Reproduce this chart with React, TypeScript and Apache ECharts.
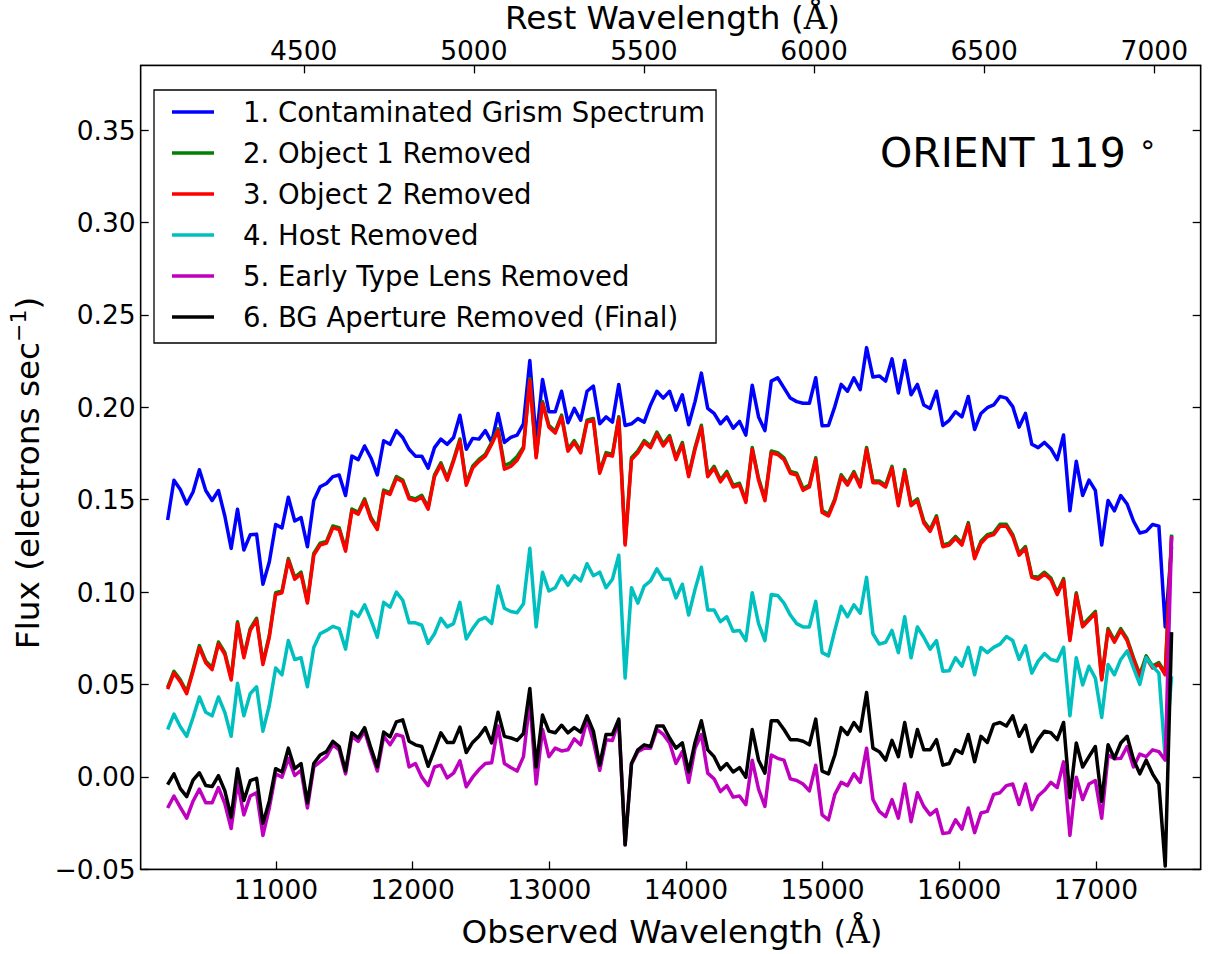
import React, { useEffect, useRef } from "react";
import * as echarts from "echarts";

// Observed wavelength grid (Angstrom)
const wavelength = [
  10207, 10253.5, 10300, 10346.5, 10393, 10439.5, 10486, 10532.5, 10579, 10625.5,
  10672, 10718.5, 10765, 10811.5, 10858, 10904.5, 10951, 10997.5, 11044, 11090.5,
  11137, 11183.5, 11230, 11276.5, 11323, 11369.5, 11416, 11462.5, 11509, 11555.5,
  11602, 11648.5, 11695, 11741.5, 11788, 11834.5, 11881, 11927.5, 11974, 12020.5,
  12067, 12113.5, 12160, 12206.5, 12253, 12299.5, 12346, 12392.5, 12439, 12485.5,
  12532, 12578.5, 12625, 12671.5, 12718, 12764.5, 12811, 12857.5, 12904, 12950.5,
  12997, 13043.5, 13090, 13136.5, 13183, 13229.5, 13276, 13322.5, 13369, 13415.5,
  13462, 13508.5, 13555, 13601.5, 13648, 13694.5, 13741, 13787.5, 13834, 13880.5,
  13927, 13973.5, 14020, 14066.5, 14113, 14159.5, 14206, 14252.5, 14299, 14345.5,
  14392, 14438.5, 14485, 14531.5, 14578, 14624.5, 14671, 14717.5, 14764, 14810.5,
  14857, 14903.5, 14950, 14996.5, 15043, 15089.5, 15136, 15182.5, 15229, 15275.5,
  15322, 15368.5, 15415, 15461.5, 15508, 15554.5, 15601, 15647.5, 15694, 15740.5,
  15787, 15833.5, 15880, 15926.5, 15973, 16019.5, 16066, 16112.5, 16159, 16205.5,
  16252, 16298.5, 16345, 16391.5, 16438, 16484.5, 16531, 16577.5, 16624, 16670.5,
  16717, 16763.5, 16810, 16856.5, 16903, 16949.5, 16996, 17042.5, 17089, 17135.5,
  17182, 17228.5, 17275, 17321.5, 17368, 17414.5, 17461, 17507.5, 17554,
];

const contaminated = [
  0.139, 0.1606, 0.1555, 0.1477, 0.1542, 0.1662, 0.155, 0.1496, 0.155, 0.1412, 0.1237, 0.1449, 0.1228, 0.131, 0.1314, 0.1043, 0.1163, 0.1366, 0.1348, 0.1514, 0.1385, 0.1403, 0.1246, 0.1496, 0.157, 0.1588,
  0.1625, 0.1634, 0.1523, 0.1736, 0.1717, 0.1791, 0.1726, 0.1634, 0.1819, 0.18, 0.1874, 0.1837, 0.1773, 0.1736, 0.1736, 0.1671, 0.1782, 0.1828, 0.18, 0.1837, 0.1957, 0.1773, 0.1832, 0.1828, 0.1874, 0.181, 0.1967,
  0.181, 0.1837, 0.185, 0.1911, 0.2253, 0.1819, 0.2151, 0.1976, 0.1976, 0.2087, 0.1917, 0.1994, 0.193, 0.2087, 0.2115, 0.1911, 0.1948, 0.192, 0.2124, 0.1902, 0.1911, 0.1939, 0.192, 0.2013, 0.2087, 0.205,
  0.2087, 0.1985, 0.2068, 0.1906, 0.2031, 0.2185, 0.1994, 0.1967, 0.1911, 0.1948, 0.1887, 0.1924, 0.185, 0.212, 0.1948, 0.1874, 0.2142, 0.216, 0.2105, 0.205, 0.2031, 0.2022, 0.2022, 0.216, 0.19, 0.1902, 0.2004,
  0.2124, 0.2087, 0.216, 0.2096, 0.2323, 0.2164, 0.217, 0.2142, 0.2262, 0.2078, 0.2253, 0.2068, 0.2124, 0.2013, 0.1994, 0.2087, 0.1902, 0.193, 0.1976, 0.1948, 0.2059, 0.188, 0.1967, 0.1998, 0.2013, 0.2059, 0.205,
  0.2004, 0.1893, 0.1967, 0.18, 0.1782, 0.181, 0.1776, 0.1717, 0.185, 0.144, 0.1708, 0.1523, 0.1606, 0.1551, 0.1255, 0.1496, 0.144, 0.1523, 0.1477, 0.1385, 0.132, 0.1329, 0.1366, 0.1357, 0.0812, 0.1246,
];

const object1Removed = [
  0.0485, 0.0572, 0.0526, 0.0461, 0.0582, 0.0711, 0.0628, 0.0591, 0.073, 0.0674, 0.0535, 0.084, 0.0655, 0.0803, 0.0859, 0.0619, 0.0766, 0.0997, 0.1007, 0.1182, 0.108, 0.1108, 0.0951, 0.121, 0.1265, 0.1275,
  0.1358, 0.1349, 0.1232, 0.145, 0.1432, 0.1505, 0.1404, 0.1349, 0.1552, 0.1539, 0.1626, 0.1607, 0.1515, 0.1505, 0.1524, 0.1459, 0.1635, 0.17, 0.1616, 0.1718, 0.1829, 0.1589, 0.1681, 0.1718, 0.1746, 0.181, 0.1884,
  0.1685, 0.17, 0.1734, 0.1786, 0.2156, 0.1737, 0.2032, 0.1903, 0.1871, 0.1958, 0.1773, 0.182, 0.1764, 0.193, 0.194, 0.1653, 0.1755, 0.1746, 0.1949, 0.1265, 0.1727, 0.1764, 0.182, 0.1792, 0.1866, 0.1801,
  0.1847, 0.1727, 0.181, 0.1635, 0.1783, 0.1903, 0.1635, 0.1681, 0.1607, 0.1653, 0.1579, 0.1589, 0.1496, 0.1783, 0.1616, 0.1505, 0.1764, 0.1755, 0.1727, 0.1653, 0.1644, 0.1561, 0.1579, 0.1727, 0.1441, 0.1422, 0.1505,
  0.1635, 0.1589, 0.1653, 0.1579, 0.1783, 0.1602, 0.1602, 0.1579, 0.1681, 0.1478, 0.1663, 0.1478, 0.1505, 0.1385, 0.1339, 0.1413, 0.1256, 0.1265, 0.1302, 0.1265, 0.1376, 0.1191, 0.1275, 0.1311, 0.1321, 0.1367, 0.1367,
  0.1311, 0.121, 0.1247, 0.109, 0.108, 0.1108, 0.1077, 0.0997, 0.1073, 0.0748, 0.0997, 0.0822, 0.0859, 0.0896, 0.0535, 0.0803, 0.0739, 0.0803, 0.0748, 0.0646, 0.0554, 0.0655, 0.06, 0.0619, 0.0563, 0.1311,
];

const object2Removed = [
  0.0475, 0.0562, 0.0516, 0.0451, 0.0572, 0.0701, 0.0618, 0.0581, 0.072, 0.0664, 0.0525, 0.083, 0.0645, 0.0793, 0.0849, 0.0609, 0.0756, 0.0987, 0.0997, 0.1172, 0.107, 0.1098, 0.0941, 0.12, 0.1255, 0.1265,
  0.1348, 0.1339, 0.1222, 0.144, 0.1422, 0.1495, 0.1394, 0.1339, 0.1542, 0.1529, 0.1616, 0.1597, 0.1505, 0.1495, 0.1514, 0.1449, 0.1625, 0.169, 0.1606, 0.1708, 0.1819, 0.1579, 0.1671, 0.1708, 0.1736, 0.18, 0.1874,
  0.1665, 0.168, 0.1714, 0.1776, 0.2146, 0.1727, 0.2022, 0.1893, 0.1861, 0.1948, 0.1763, 0.181, 0.1754, 0.192, 0.193, 0.1643, 0.1745, 0.1736, 0.1939, 0.1255, 0.1717, 0.1754, 0.181, 0.1782, 0.1856, 0.1791,
  0.1837, 0.1717, 0.18, 0.1625, 0.1773, 0.1893, 0.1625, 0.1671, 0.1597, 0.1643, 0.1569, 0.1579, 0.1486, 0.1773, 0.1606, 0.1495, 0.1754, 0.1745, 0.1717, 0.1643, 0.1634, 0.1551, 0.1569, 0.1717, 0.1431, 0.1412, 0.1495,
  0.1625, 0.1579, 0.1643, 0.1569, 0.1773, 0.1592, 0.1592, 0.1569, 0.1671, 0.1468, 0.1653, 0.1468, 0.1495, 0.1375, 0.1329, 0.1403, 0.1246, 0.1255, 0.1292, 0.1255, 0.1366, 0.1181, 0.1265, 0.1301, 0.1311, 0.1357, 0.1357,
  0.1301, 0.12, 0.1237, 0.108, 0.107, 0.1098, 0.1067, 0.0987, 0.1063, 0.0738, 0.0987, 0.0812, 0.0849, 0.0886, 0.0525, 0.0793, 0.0729, 0.0793, 0.0738, 0.0636, 0.0544, 0.0645, 0.059, 0.0609, 0.0553, 0.1301,
];

const hostRemoved = [
  0.0257, 0.034, 0.0272, 0.022, 0.0322, 0.0433, 0.035, 0.0331, 0.0433, 0.035, 0.022, 0.0507, 0.0331, 0.0451, 0.0488, 0.0248, 0.0387, 0.059, 0.0553, 0.0738, 0.0636, 0.0645, 0.0488, 0.0701, 0.0775, 0.0793,
  0.0815, 0.0803, 0.0692, 0.0895, 0.0867, 0.0932, 0.0849, 0.0756, 0.0945, 0.0919, 0.1, 0.0956, 0.0834, 0.0834, 0.0821, 0.0723, 0.0775, 0.0858, 0.0812, 0.083, 0.0945, 0.0747, 0.0803, 0.0849, 0.0863, 0.083, 0.1033,
  0.0913, 0.0895, 0.0889, 0.0937, 0.1237, 0.0812, 0.1108, 0.1006, 0.1024, 0.1089, 0.1037, 0.1089, 0.1061, 0.1154, 0.1089, 0.1108, 0.1024, 0.107, 0.12, 0.0535, 0.1024, 0.0941, 0.1033, 0.1061, 0.1126, 0.107,
  0.107, 0.0969, 0.1043, 0.0876, 0.1015, 0.1135, 0.0904, 0.0904, 0.084, 0.0867, 0.0788, 0.0793, 0.0738, 0.0997, 0.083, 0.0738, 0.0987, 0.0982, 0.0941, 0.0876, 0.083, 0.0812, 0.0812, 0.095, 0.0673, 0.0655, 0.0793,
  0.0923, 0.0867, 0.0932, 0.0886, 0.108, 0.0775, 0.0719, 0.0729, 0.0793, 0.0673, 0.0867, 0.0645, 0.0812, 0.0756, 0.0692, 0.0738, 0.0572, 0.0575, 0.0645, 0.0599, 0.0701, 0.0553, 0.0701, 0.0673, 0.0701, 0.0719, 0.076,
  0.0738, 0.0636, 0.071, 0.0562, 0.0627, 0.0668, 0.0636, 0.0627, 0.0701, 0.0331, 0.0645, 0.0498, 0.0599, 0.0535, 0.0322, 0.0609, 0.0553, 0.0636, 0.0682, 0.059, 0.0501, 0.0645, 0.0599, 0.0562, 0.01, 0.0544,
];

const lensRemoved = [
  -0.0168, -0.0103, -0.0164, -0.0223, -0.0131, -0.0066, -0.014, -0.014, -0.0057, -0.0144, -0.0279, -0.0029, -0.0205, -0.0103, -0.0085, -0.0316, -0.0168, 0.0017, -0.0001, 0.0101, 0.0008, 0.0036, -0.0168, 0.0054, 0.0082, 0.011,
  0.0174, 0.0147, 0.0017, 0.022, 0.0193, 0.0248, 0.0137, 0.0032, 0.022, 0.0174, 0.023, 0.022, 0.0054, 0.0073, -0.0001, -0.0047, 0.0054, 0.0064, -0.0005, 0.0021, 0.0087, -0.0053, -0.0001, 0.004, 0.0073, 0.0077, 0.0276,
  0.0073, 0.0051, 0.0032, 0.011, 0.0414, -0.0038, 0.0257, 0.011, 0.0156, 0.0141, 0.0147, 0.0206, 0.0174, 0.0309, 0.0193, 0.0036, 0.0202, 0.0198, 0.0304, -0.0367, 0.007, 0.0137, 0.0156, 0.0156, 0.0257, 0.023,
  0.0184, 0.0073, 0.0137, -0.0029, 0.0156, 0.023, 0.0021, -0.001, -0.0079, -0.0047, -0.0109, -0.0103, -0.015, 0.0091, -0.0066, -0.0159, 0.0119, 0.0101, 0.0091, -0.001, -0.0019, -0.0038, -0.0075, 0.0064, -0.0205, -0.0232, -0.0094,
  -0.0029, -0.0047, 0.0017, -0.0029, 0.0156, -0.0122, -0.0186, -0.0214, -0.0122, -0.0223, -0.0038, -0.0242, -0.0085, -0.0159, -0.0205, -0.0177, -0.0306, -0.0301, -0.0232, -0.0282, -0.0168, -0.0301, -0.0195, -0.0186, -0.0094, -0.0085, -0.0047,
  -0.0038, -0.0149, -0.0038, -0.0177, -0.0103, -0.0072, -0.0029, -0.0057, 0.0082, -0.0316, -0.0001, -0.0122, -0.0038, -0.0019, -0.0223, 0.0119, 0.0099, 0.0101, 0.0165, 0.0054, 0.0124, 0.011, 0.0147, 0.0137, 0.0091, 0.1301,
];

const bgRemoved = [
  -0.0041, 0.0017, -0.0063, -0.0106, -0.0017, 0.0023, -0.0046, -0.0052, 0.0007, -0.0074, -0.0218, 0.0045, -0.0127, -0.002, -0.0007, -0.0251, -0.0131, 0.0045, 0.0027, 0.0156, 0.0045, 0.0073, -0.014, 0.0073, 0.0119, 0.0137,
  0.0193, 0.0165, 0.0032, 0.0239, 0.0211, 0.0267, 0.0156, 0.0054, 0.0243, 0.0217, 0.0298, 0.0309, 0.0193, 0.0174, 0.0165, 0.0058, 0.0147, 0.0239, 0.0187, 0.0187, 0.027, 0.0132, 0.0187, 0.022, 0.0267, 0.0184, 0.035,
  0.022, 0.0211, 0.0198, 0.0235, 0.0479, 0.0054, 0.0335, 0.0248, 0.0239, 0.028, 0.0239, 0.0267, 0.0243, 0.0331, 0.0248, 0.0064, 0.023, 0.023, 0.0313, -0.0367, 0.0073, 0.0147, 0.0174, 0.0165, 0.0276, 0.0276,
  0.0211, 0.0156, 0.0184, 0.0027, 0.0187, 0.0304, 0.0147, 0.011, 0.004, 0.0073, 0.0027, 0.0051, -0.0001, 0.0257, 0.0091, 0.0021, 0.0304, 0.0304, 0.0257, 0.0202, 0.0202, 0.0193, 0.0174, 0.0313, 0.0032, 0.0017, 0.0119,
  0.0267, 0.023, 0.0295, 0.0248, 0.0457, 0.0156, 0.0137, 0.0091, 0.0198, 0.011, 0.0295, 0.011, 0.0257, 0.0147, 0.0147, 0.0202, 0.0064, 0.0073, 0.0147, 0.0128, 0.023, 0.0082, 0.022, 0.0187, 0.0285, 0.0295, 0.0276,
  0.0331, 0.022, 0.028, 0.0137, 0.0202, 0.0248, 0.0239, 0.0202, 0.0295, -0.0112, 0.0184, 0.0054, 0.011, 0.0165, -0.0131, 0.0174, 0.0101, 0.0184, 0.022, 0.0095, 0.0017, 0.0091, 0.0017, -0.0038, -0.0482, 0.0784,
];

const seriesNames = [
  "1. Contaminated Grism Spectrum",
  "2. Object 1 Removed",
  "3. Object 2 Removed",
  "4. Host Removed",
  "5. Early Type Lens Removed",
  "6. BG Aperture Removed (Final)",
];
const seriesColors = ["#0000ff", "#008000", "#ff0000", "#00bfbf", "#bf00bf", "#000000"];
const seriesValues = [contaminated, object1Removed, object2Removed, hostRemoved, lensRemoved, bgRemoved];

const observedTicks = [11000, 12000, 13000, 14000, 15000, 16000, 17000];
const restTicks = [4500, 5000, 5500, 6000, 6500, 7000];
const fluxTicks = [-0.05, 0, 0.05, 0.1, 0.15, 0.2, 0.25, 0.3, 0.35];
const onePlusZ = 2.4896;
const obsMin = 10010;
const obsMax = 17767;
const fluxMin = -0.05;
const fluxMax = 0.385;

const FONT = "DejaVu Sans";

export default function App() {
  const ref = useRef<HTMLDivElement>(null);
  useEffect(() => {
    document.body.style.margin = "0";
    const chart = echarts.init(ref.current!, null, { renderer: "svg" });
    const tickLine = { color: "#000", width: 1.3 };
    const labelStyle = { color: "#000", fontSize: 26.5, fontFamily: FONT };
    const fmtFlux = (v: number) => (v < -1e-9 ? "\u2212" + Math.abs(v).toFixed(2) : Math.abs(v).toFixed(2));
    const option: any = {
      animation: false,
      backgroundColor: "#fff",
      textStyle: { fontFamily: FONT },
      grid: {
        left: 140.7,
        right: 7.3,
        top: 65.4,
        bottom: 84.6,
        show: true,
        borderColor: "#000",
        borderWidth: 1.3,
        backgroundColor: "transparent",
      },
      legend: {
        orient: "vertical",
        left: 154,
        top: 90,
        padding: [7, 11, 11, 18],
        itemGap: 11,
        itemWidth: 42,
        itemHeight: 3.5,
        icon: "rect",
        borderColor: "#000",
        borderWidth: 1.3,
        borderRadius: 0,
        backgroundColor: "#fff",
        selectedMode: false,
        textStyle: { fontSize: 27.5, fontFamily: FONT, color: "#000", lineHeight: 30, padding: [0, 0, 0, 24] },
        data: seriesNames,
      },
      xAxis: [
        {
          type: "value",
          position: "bottom",
          min: obsMin,
          max: obsMax,
          splitLine: { show: false },
          axisLine: { show: true, onZero: false, lineStyle: tickLine },
          axisTick: { show: true, inside: true, length: 8, lineStyle: tickLine, customValues: observedTicks },
          axisLabel: { ...labelStyle, margin: 7, customValues: observedTicks, formatter: (v: number) => String(v) },
        },
        {
          type: "value",
          position: "top",
          min: obsMin / onePlusZ,
          max: obsMax / onePlusZ,
          splitLine: { show: false },
          axisLine: { show: true, onZero: false, lineStyle: tickLine },
          axisTick: { show: true, inside: true, length: 8, lineStyle: tickLine, customValues: restTicks },
          axisLabel: { ...labelStyle, margin: 1, customValues: restTicks, formatter: (v: number) => String(v) },
        },
      ],
      yAxis: [
        {
          type: "value",
          position: "left",
          min: fluxMin,
          max: fluxMax,
          splitLine: { show: false },
          axisLine: { show: true, onZero: false, lineStyle: tickLine },
          axisTick: { show: true, inside: true, length: 8, lineStyle: tickLine, customValues: fluxTicks },
          axisLabel: { ...labelStyle, margin: 5, customValues: fluxTicks, formatter: fmtFlux },
        },
        {
          type: "value",
          position: "right",
          min: fluxMin,
          max: fluxMax,
          splitLine: { show: false },
          axisLine: { show: true, onZero: false, lineStyle: tickLine },
          axisTick: { show: true, inside: true, length: 8, lineStyle: tickLine, customValues: fluxTicks },
          axisLabel: { show: false },
        },
      ],
      series: seriesNames.map((name, k) => ({
        name,
        type: "line",
        xAxisIndex: 0,
        yAxisIndex: 0,
        showSymbol: false,
        symbol: "none",
        clip: true,
        color: seriesColors[k],
        lineStyle: { color: seriesColors[k], width: 3.5, join: "round" },
        data: wavelength.map((w, i) => [w, seriesValues[k][i]]),
      })),
      graphic: [
        {
          type: "text",
          x: 672,
          y: 932,
          style: {
            text: "{a|Observed Wavelength (}{b|\u00c5}{a|)}",
            align: "center",
            verticalAlign: "middle",
            rich: {
              a: { fontSize: 32.7, fontFamily: FONT, fill: "#000" },
              b: { fontSize: 32.7, fontFamily: "DejaVu Serif", fill: "#000" },
            },
          },
        },
        {
          type: "text",
          x: 672.5,
          y: 18,
          style: {
            text: "{a|Rest Wavelength (}{b|\u00c5}{a|)}",
            align: "center",
            verticalAlign: "middle",
            rich: {
              a: { fontSize: 32.7, fontFamily: FONT, fill: "#000" },
              b: { fontSize: 32.7, fontFamily: "DejaVu Serif", fill: "#000" },
            },
          },
        },
        {
          type: "text",
          x: 27.5,
          y: 473,
          rotation: Math.PI / 2,
          style: {
            text: "{a|Flux (electrons sec}{s|\u22121}{a|)}",
            align: "center",
            verticalAlign: "middle",
            rich: {
              a: { fontSize: 32.7, fontFamily: FONT, fill: "#000", lineHeight: 40 },
              s: { fontSize: 22, fontFamily: FONT, fill: "#000", lineHeight: 22, verticalAlign: "top" },
            },
          },
        },
        {
          type: "text",
          x: 880,
          y: 153,
          style: {
            text: "{a|ORIENT 119 }{s|\u2218}",
            align: "left",
            verticalAlign: "middle",
            rich: {
              a: { fontSize: 41, fontFamily: FONT, fill: "#000", lineHeight: 48 },
              s: { fontSize: 29, fontFamily: FONT, fill: "#000", lineHeight: 28, verticalAlign: "top" },
            },
          },
        },
      ],
    };
    chart.setOption(option);
    return () => chart.dispose();
  }, []);
  return <div ref={ref} style={{ width: 1208, height: 954 }} />;
}
